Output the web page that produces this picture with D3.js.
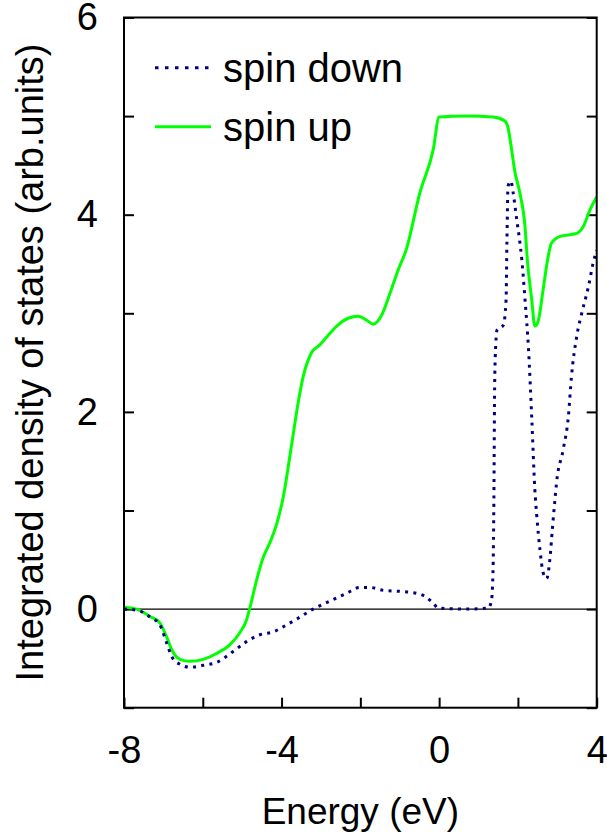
<!DOCTYPE html>
<html>
<head>
<meta charset="utf-8">
<script src="https://cdn.jsdelivr.net/npm/d3@7"></script>
<style>
  html, body { margin: 0; padding: 0; background: #fff; }
  svg { display: block; font-family: "Liberation Sans", Arial, Helvetica, sans-serif; }
</style>
</head>
<body>
<div id="chart"></div>
<script>
// energy (eV) and integrated DOS
const upEnergy = [-8, -7.68, -7.34, -7.09, -6.92, -6.79, -6.58, -6.32, -5.99, -5.65, -5.31, -5.06, -4.89, -4.80, -4.63, -4.46, -4.30, -4.12, -3.97, -3.74, -3.58, -3.45, -3.24, -3.03, -2.81, -2.60, -2.31, -2.05, -1.84, -1.67, -1.46, -1.25, -1.04, -0.84, -0.49, -0.15, 0.0, 0.70, 1.37, 1.67, 1.75, 1.84, 1.92, 2.05, 2.18, 2.24, 2.35, 2.43, 2.52, 2.64, 2.77, 2.85, 3.07, 3.49, 3.66, 3.83, 4.0];
const upDos = [0.02, 0, -0.075, -0.14, -0.28, -0.41, -0.51, -0.53, -0.51, -0.45, -0.36, -0.24, -0.11, 0.02, 0.30, 0.53, 0.67, 0.87, 1.11, 1.68, 2.09, 2.36, 2.60, 2.68, 2.78, 2.87, 2.95, 2.97, 2.93, 2.89, 2.98, 3.20, 3.44, 3.64, 4.22, 4.66, 4.99, 5.0, 4.99, 4.95, 4.88, 4.66, 4.44, 4.22, 3.88, 3.54, 3.14, 2.87, 2.93, 3.24, 3.58, 3.71, 3.78, 3.81, 3.88, 4.05, 4.18];

const downEnergy = [-8, -7.68, -7.34, -7.09, -6.92, -6.79, -6.58, -6.32, -5.99, -5.65, -5.23, -4.89, -4.55, -4.21, -3.87, -3.53, -3.20, -2.78, -2.35, -2.01, -1.76, -1.42, -1.0, -0.57, -0.36, -0.15, -0.02, 0.70, 1.25, 1.33, 1.37, 1.39, 1.41, 1.44, 1.47, 1.63, 1.70, 1.72, 1.75, 1.82, 1.88, 1.97, 2.04, 2.10, 2.18, 2.27, 2.35, 2.43, 2.48, 2.56, 2.64, 2.73, 2.81, 2.88, 2.94, 2.98, 3.15, 3.28, 3.36, 3.49, 3.62, 3.79, 3.91, 4.0];
const downDos = [0, -0.01, -0.08, -0.16, -0.34, -0.48, -0.56, -0.59, -0.57, -0.54, -0.43, -0.33, -0.26, -0.23, -0.16, -0.08, 0.0, 0.08, 0.16, 0.22, 0.22, 0.19, 0.18, 0.16, 0.13, 0.06, 0.01, 0.0, 0.01, 0.09, 0.43, 1.12, 2.29, 2.70, 2.83, 2.88, 3.14, 3.7, 4.29, 4.34, 4.22, 3.95, 3.75, 3.54, 3.14, 2.63, 1.95, 1.21, 0.94, 0.60, 0.37, 0.31, 0.50, 0.84, 1.11, 1.28, 1.62, 1.95, 2.36, 2.76, 3.0, 3.27, 3.51, 3.64];

const xTicks = [-8, -6, -4, -2, 0, 2, 4];
const xLabels = [-8, -4, 0, 4];
const yTicks = [-1, 0, 1, 2, 3, 4, 5, 6];
const yLabels = [0, 2, 4, 6];

const width = 607, height = 840;
const margin = { top: 17.5, right: 10.3, bottom: 132.3, left: 124 };

const svg = d3.select('#chart').append('svg')
  .attr('width', width)
  .attr('height', height);

const x = d3.scaleLinear().domain([-8, 4]).range([margin.left, width - margin.right]);
const y = d3.scaleLinear().domain([-1, 6]).range([height - margin.bottom, margin.top]);

svg.append('clipPath').attr('id', 'plot-clip')
  .append('rect')
  .attr('x', x(-8)).attr('y', y(6))
  .attr('width', x(4) - x(-8)).attr('height', y(-1) - y(6));

// axes, ticks pointing inward
const fontSize = 38;

const bottom = svg.append('g')
  .attr('transform', `translate(0,${y(-1)})`)
  .call(d3.axisBottom(x).tickValues(xTicks).tickSizeInner(-10).tickSizeOuter(0).tickPadding(28)
    .tickFormat(d => xLabels.includes(d) ? d : ''));

const left = svg.append('g')
  .attr('transform', `translate(${x(-8)},0)`)
  .call(d3.axisLeft(y).tickValues(yTicks).tickSizeInner(-10).tickSizeOuter(0).tickPadding(26)
    .tickFormat(d => yLabels.includes(d) ? d : ''));

const right = svg.append('g')
  .attr('transform', `translate(${x(4)},0)`)
  .call(d3.axisRight(y).tickValues(yTicks).tickSizeInner(-10).tickSizeOuter(0).tickFormat(''));

[bottom, left, right].forEach(g => {
  g.select('.domain').remove();
  g.selectAll('.tick line').attr('stroke', '#000').attr('stroke-width', 2);
  g.selectAll('.tick text')
    .attr('fill', '#000')
    .style('font-family', '"Liberation Sans", Arial, Helvetica, sans-serif')
    .style('font-size', fontSize + 'px');
});

// zero line
svg.append('line')
  .attr('x1', x(-8)).attr('x2', x(4))
  .attr('y1', y(0)).attr('y2', y(0))
  .attr('stroke', '#000')
  .attr('stroke-width', 1.2);

const line = d3.line()
  .curve(d3.curveMonotoneX)
  .x(d => x(d[0]))
  .y(d => y(d[1]));

const upData = upEnergy.map((e, i) => [e, upDos[i]]);
const downData = downEnergy.map((e, i) => [e, downDos[i]]);

const plot = svg.append('g').attr('clip-path', 'url(#plot-clip)');

plot.append('path')
  .datum(upData)
  .attr('d', line)
  .attr('fill', 'none')
  .attr('stroke', '#00ff00')
  .attr('stroke-width', 3)
  .attr('stroke-linejoin', 'round');

plot.append('path')
  .datum(downData)
  .attr('d', line)
  .attr('fill', 'none')
  .attr('stroke', '#000080')
  .attr('stroke-width', 3)
  .attr('stroke-dasharray', '3,5.3');

// frame
svg.append('rect')
  .attr('x', x(-8)).attr('y', y(6))
  .attr('width', x(4) - x(-8)).attr('height', y(-1) - y(6))
  .attr('fill', 'none')
  .attr('stroke', '#000')
  .attr('stroke-width', 2);

// axis titles
svg.append('text')
  .attr('x', (x(-8) + x(4)) / 2)
  .attr('y', 824)
  .attr('text-anchor', 'middle')
  .style('font-size', '37px')
  .text('Energy (eV)');

svg.append('text')
  .attr('transform', `translate(43,${(50 + 675) / 2}) rotate(-90)`)
  .attr('text-anchor', 'middle')
  .style('font-size', '38px')
  .text('Integrated density of states (arb.units)');

// legend
const legend = [
  { label: 'spin down', color: '#000080', dash: '3.5,6.5', y: 67.7 },
  { label: 'spin up', color: '#00ff00', dash: null, y: 126.7 }
];

const lg = svg.append('g').selectAll('g')
  .data(legend)
  .join('g');

lg.append('line')
  .attr('x1', 155).attr('x2', 211)
  .attr('y1', d => d.y).attr('y2', d => d.y)
  .attr('stroke', d => d.color)
  .attr('stroke-width', 3)
  .attr('stroke-dasharray', d => d.dash);

lg.append('text')
  .attr('x', 223)
  .attr('y', d => d.y + 14)
  .style('font-size', '40px')
  .text(d => d.label);
</script>
</body>
</html>
